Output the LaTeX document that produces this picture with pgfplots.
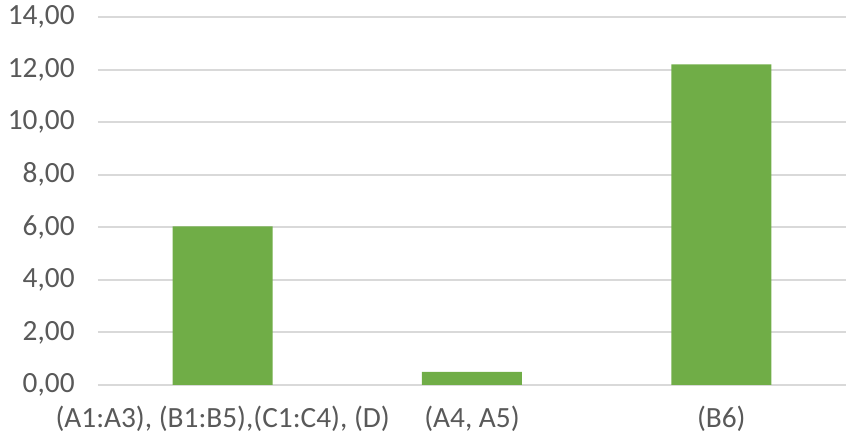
\documentclass[border=0pt]{standalone}
\usepackage{pgfplots}
\pgfplotsset{compat=1.18}
\usepackage{fontspec}
\setmainfont{Carlito}
\definecolor{bargreen}{HTML}{70AD47}
\definecolor{gridgray}{HTML}{D9D9D9}
\definecolor{textgray}{HTML}{595959}
\begin{document}
\begin{tikzpicture}[x=1pt,y=1pt]
\path[use as bounding box] (-73.5pt,-40.5pt) rectangle (561.75pt,288.75pt);
\begin{axis}[
  at={(0,0)}, anchor=south west,
  scale only axis,
  width=561pt, height=276pt,
  xmin=-0.5, xmax=2.5,
  ymin=0, ymax=14,
  ytick={0,2,...,14},
  xtick={0,1,2},
  xticklabels={{(A1:A3), (B1:B5),(C1:C4), (D)},{(A4, A5)},{(B6)}},
  axis line style={draw=none},
  tick style={draw=none},
  ymajorgrids,
  grid style={gridgray, line width=1.5pt},
  ybar, bar width=75pt,
  every tick label/.append style={font=\fontsize{22}{26}\selectfont, text=textgray},
  yticklabel style={/pgf/number format/fixed, /pgf/number format/fixed zerofill, /pgf/number format/precision=2, /pgf/number format/use comma, /pgf/number format/assume math mode=true, xshift=-14pt},
  xticklabel style={yshift=-8pt},
  clip=false,
]
\addplot[fill=bargreen, draw=none] coordinates {(0,6.03) (1,0.5) (2,12.2)};
\end{axis}
\end{tikzpicture}
\end{document}
